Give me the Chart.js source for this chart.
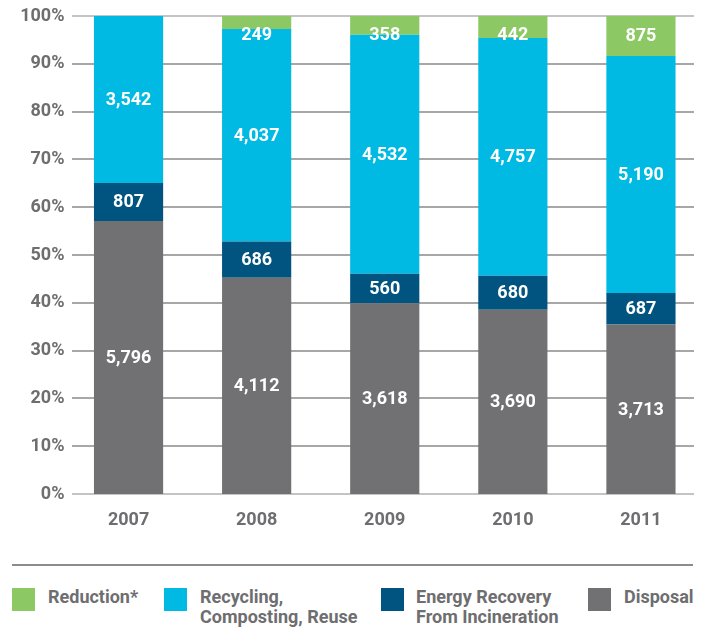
<!DOCTYPE html>
<html>
<head>
<meta charset="utf-8">
<script src="https://cdn.jsdelivr.net/npm/chart.js@4/dist/chart.umd.min.js"></script>
<style>
  body { margin: 0; background: #fff; }
  #wrap { position: relative; width: 705px; height: 628px; font-family: 'Roboto', sans-serif; font-weight: bold; color: #6e6e70; }
  #wrap canvas { position: absolute; left: 0; top: 0; }
  .sep { position: absolute; left: 12px; top: 564px; width: 681px; height: 2px; background: #8c8c8c; }
  .item { position: absolute; top: 588px; }
  .sw { position: absolute; left: 0; top: 0; width: 23px; height: 23px; }
  .lbl { position: absolute; top: -1px; font-size: 18px; line-height: 20px; white-space: nowrap; }
</style>
</head>
<body>
<div id="wrap">
  <canvas id="chart" width="705" height="545"></canvas>
  <div class="sep"></div>
  <div class="item" style="left:12px"><div class="sw" style="background:#8cc864"></div><div class="lbl" style="left:36px">Reduction*</div></div>
  <div class="item" style="left:164px"><div class="sw" style="background:#00bae3"></div><div class="lbl" style="left:36px">Recycling,<br>Composting, Reuse</div></div>
  <div class="item" style="left:381px"><div class="sw" style="background:#00547f"></div><div class="lbl" style="left:35px">Energy Recovery<br>From Incineration</div></div>
  <div class="item" style="left:588px"><div class="sw" style="background:#717073"></div><div class="lbl" style="left:36px">Disposal</div></div>
</div>
<script>
const years = ['2007', '2008', '2009', '2010', '2011'];
const disposal = [5796, 4112, 3618, 3690, 3713];
const energy = [807, 686, 560, 680, 687];
const recycling = [3542, 4037, 4532, 4757, 5190];
const reduction = [0, 249, 358, 442, 875];
const yTicks = [0, 10, 20, 30, 40, 50, 60, 70, 80, 90, 100];

const FONT = "'Roboto', sans-serif";
const totals = years.map((y, i) => disposal[i] + energy[i] + recycling[i] + reduction[i]);
const pct = arr => arr.map((v, i) => v / totals[i] * 100);

const gridLines = {
    id: 'gridLines',
    beforeDatasetsDraw(chart) {
        const ctx = chart.ctx;
        const ys = chart.scales.y;
        ctx.save();
        yTicks.forEach(t => {
            const y = Math.round(ys.getPixelForValue(t));
            ctx.strokeStyle = (t === 0 || t === 100) ? '#b0b0b0' : '#8a8a8a';
            ctx.lineWidth = 1.5;
            ctx.beginPath();
            ctx.moveTo(72, y);
            ctx.lineTo(694, y);
            ctx.stroke();
        });
        ctx.restore();
    }
};

// value labels, small top segments get pushed down a bit like in the original
const valueLabels = {
    id: 'valueLabels',
    afterDatasetsDraw(chart) {
        const ctx = chart.ctx;
        const top = chart.chartArea.top;
        ctx.save();
        ctx.fillStyle = '#fff';
        ctx.font = 'bold 18px ' + FONT;
        ctx.textAlign = 'center';
        ctx.textBaseline = 'middle';
        chart.data.datasets.forEach((ds, di) => {
            chart.getDatasetMeta(di).data.forEach((bar, i) => {
                const v = ds.raw[i];
                if (!v) return;
                const y = Math.max((bar.y + bar.base) / 2, top + 18);
                ctx.fillText(v.toLocaleString('en-US'), bar.x, y + 1);
            });
        });
        ctx.restore();
    }
};

new Chart(document.getElementById('chart'), {
    type: 'bar',
    data: {
        labels: years,
        datasets: [
            { label: 'Disposal', data: pct(disposal), raw: disposal, backgroundColor: '#717073' },
            { label: 'Energy Recovery From Incineration', data: pct(energy), raw: energy, backgroundColor: '#00547f' },
            { label: 'Recycling, Composting, Reuse', data: pct(recycling), raw: recycling, backgroundColor: '#00bae3' },
            { label: 'Reduction*', data: pct(reduction), raw: reduction, backgroundColor: '#8cc864' }
        ]
    },
    options: {
        responsive: false,
        animation: false,
        layout: { padding: { top: 16, right: 0, left: 0, bottom: 0 } },
        datasets: { bar: { categoryPercentage: 1, barPercentage: 0.54, borderWidth: 0 } },
        plugins: { legend: { display: false }, tooltip: { enabled: false } },
        scales: {
            x: {
                stacked: true,
                grid: { display: false, drawTicks: false },
                border: { display: false },
                ticks: { color: '#6e6e70', font: { family: FONT, size: 18, weight: 'bold' }, padding: 16 },
                afterFit: s => { s.height = 51; }
            },
            y: {
                stacked: true,
                min: 0,
                max: 100,
                grid: { display: false, drawTicks: false, tickLength: 0 },
                border: { display: false },
                ticks: { stepSize: 10, padding: 0, color: '#6e6e70', font: { family: FONT, size: 18, weight: 'bold' }, callback: v => v + '%' },
                afterFit: s => { s.width = 64.5; }
            }
        }
    },
    plugins: [gridLines, valueLabels]
});
</script>
</body>
</html>
